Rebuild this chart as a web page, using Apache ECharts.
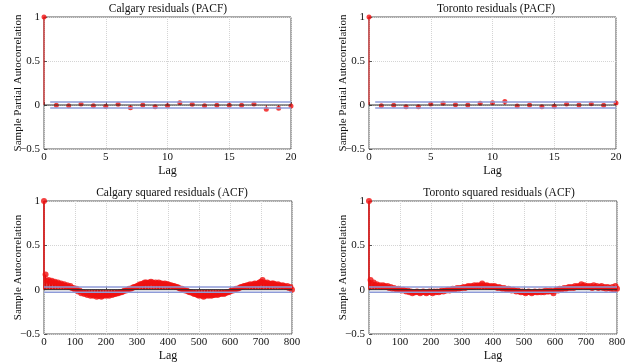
<!DOCTYPE html>
<html>
<head>
<meta charset="utf-8">
<script src="https://cdn.jsdelivr.net/npm/echarts@6/dist/echarts.min.js"></script>
<style>
  html, body { margin: 0; padding: 0; background: #fff; }
  #chart { width: 640px; height: 364px; }
</style>
</head>
<body>
<div id="chart"></div>
<script>
// PACF, lags 0..20
var pacfLags = [0, 1, 2, 3, 4, 5, 6, 7, 8, 9, 10, 11, 12, 13, 14, 15, 16, 17, 18, 19, 20];
var calgaryPacf = [1, -0.004, -0.008, 0.011, -0.008, -0.015, 0.008, -0.03, 0.0, -0.019, -0.008,
  0.026, 0.008, -0.008, -0.004, -0.004, -0.004, 0.011, -0.049, -0.038, -0.011];
var torontoPacf = [1, -0.008, -0.004, -0.019, -0.019, 0.011, 0.019, 0.004, 0.0, 0.019, 0.026,
  0.041, -0.011, 0.0, -0.019, -0.015, 0.011, 0.0, 0.015, -0.004, 0.023];

// ACF of squared residuals, read every 5 lags (0, 5, 10, ... 800)
var acfLags = [];
for (var k = 0; k <= 800; k += 5) acfLags.push(k);
var calgaryAcf = [1, 0.17, 0.10, 0.11, 0.09, 0.10, 0.08, 0.09, 0.07, 0.08, 0.06, 0.07, 0.05, 0.06, 0.04, 0.05,
  0.03, 0.04, 0.02, 0.02, 0.00, 0.01, -0.02, -0.01, -0.04, -0.03, -0.05, -0.04, -0.06, -0.05, -0.07, -0.06,
  -0.07, -0.06, -0.08, -0.07, -0.07, -0.08, -0.07, -0.06, -0.07, -0.06, -0.07, -0.05, -0.06, -0.05, -0.05,
  -0.04, -0.04, -0.03, -0.03, -0.02, -0.01, -0.01, 0.00, 0.01, 0.01, 0.02, 0.03, 0.03, 0.04, 0.05, 0.06,
  0.06, 0.07, 0.08, 0.08, 0.07, 0.08, 0.09, 0.08, 0.07, 0.08, 0.07, 0.08, 0.07, 0.07, 0.06, 0.07, 0.06,
  0.06, 0.05, 0.05, 0.04, 0.04, 0.03, 0.03, 0.02, 0.01, 0.01, 0.00, -0.01, -0.01, -0.02, -0.03, -0.03,
  -0.04, -0.05, -0.05, -0.06, -0.07, -0.06, -0.07, -0.08, -0.07, -0.06, -0.07, -0.06, -0.07, -0.06, -0.06,
  -0.05, -0.06, -0.05, -0.05, -0.04, -0.05, -0.04, -0.03, -0.03, -0.02, -0.01, -0.01, 0.00, 0.01, 0.01,
  0.02, 0.03, 0.03, 0.04, 0.04, 0.05, 0.05, 0.06, 0.05, 0.06, 0.07, 0.06, 0.07, 0.08, 0.09, 0.11, 0.08,
  0.07, 0.08, 0.07, 0.06, 0.07, 0.07, 0.06, 0.05, 0.06, 0.05, 0.04, 0.05, 0.04, 0.03, 0.04, 0.02, 0.03, 0.00];
var torontoAcf = [1, 0.11, 0.06, 0.08, 0.05, 0.06, 0.04, 0.05, 0.03, 0.05, 0.04, 0.03, 0.04, 0.02, 0.03, 0.01,
  0.02, 0.01, 0.00, 0.01, 0.00, -0.01, 0.00, -0.01, -0.02, -0.01, -0.03, -0.02, -0.04, -0.03, -0.03, -0.02,
  -0.03, -0.04, -0.03, -0.02, -0.03, -0.04, -0.03, -0.02, -0.03, -0.04, -0.02, -0.03, -0.02, -0.03, -0.02,
  -0.01, -0.02, -0.01, -0.01, 0.00, -0.01, 0.00, 0.01, 0.00, 0.01, 0.02, 0.01, 0.02, 0.02, 0.03, 0.02,
  0.03, 0.04, 0.03, 0.04, 0.03, 0.05, 0.04, 0.05, 0.04, 0.05, 0.07, 0.05, 0.04, 0.05, 0.04, 0.03, 0.04,
  0.03, 0.04, 0.03, 0.02, 0.03, 0.02, 0.01, 0.02, 0.01, 0.00, 0.01, 0.00, -0.01, 0.00, -0.01, -0.02,
  -0.01, -0.02, -0.03, -0.02, -0.03, -0.04, -0.03, -0.02, -0.03, -0.04, -0.03, -0.02, -0.03, -0.03, -0.02,
  -0.03, -0.02, -0.03, -0.01, -0.02, -0.02, -0.01, -0.02, -0.04, -0.01, 0.00, -0.01, 0.01, 0.00, 0.01,
  0.02, 0.01, 0.02, 0.03, 0.02, 0.03, 0.02, 0.04, 0.03, 0.04, 0.03, 0.06, 0.04, 0.05, 0.03, 0.04, 0.03,
  0.04, 0.02, 0.05, 0.03, 0.04, 0.02, 0.03, 0.04, 0.02, 0.03, 0.01, 0.03, 0.02, 0.01, 0.03, 0.00, 0.04, 0.01];

var pacfBound = 0.034;
var acfBound = 0.03;

var titles = ['Calgary residuals (PACF)', 'Toronto residuals (PACF)',
  'Calgary squared residuals (ACF)', 'Toronto squared residuals (ACF)'];
var yNames = ['Sample Partial Autocorrelation', 'Sample Partial Autocorrelation',
  'Sample Autocorrelation', 'Sample Autocorrelation'];

var serif = 'Liberation Serif';
var red = '#f01010';

var grids = [
  { left: 44, top: 17, width: 247, height: 132 },
  { left: 369, top: 17, width: 247, height: 132 },
  { left: 44, top: 201, width: 248, height: 133 },
  { left: 369, top: 201, width: 248, height: 133 }
];
var titleX = [168, 496, 172, 499];
var titleY = [9, 9, 193, 193];

function pairs(xs, ys) {
  return xs.map(function (x, i) { return [x, ys[i]]; });
}

var panels = [
  { lags: pacfLags, vals: calgaryPacf, max: 20, step: 5, bound: pacfBound, b0: 0.5, size: 5, stem: 1 },
  { lags: pacfLags, vals: torontoPacf, max: 20, step: 5, bound: pacfBound, b0: 0.5, size: 5, stem: 1 },
  { lags: acfLags, vals: calgaryAcf, max: 800, step: 100, bound: acfBound, b0: 0, size: 6, stem: 1.6 },
  { lags: acfLags, vals: torontoAcf, max: 800, step: 100, bound: acfBound, b0: 0, size: 6, stem: 1.6 }
];

function stemRenderer(width) {
  return function (params, api) {
    var top = api.coord([api.value(0), api.value(1)]);
    var base = api.coord([api.value(0), 0]);
    return {
      type: 'line',
      shape: { x1: top[0], y1: base[1], x2: top[0], y2: top[1] },
      style: { stroke: '#dc1010', lineWidth: width }
    };
  };
}

var xAxes = [], yAxes = [], series = [], graphics = [];
panels.forEach(function (p, i) {
  xAxes.push({
    type: 'value', gridIndex: i, min: 0, max: p.max, interval: p.step,
    name: 'Lag', nameLocation: 'middle', nameGap: 16,
    nameTextStyle: { fontFamily: serif, fontSize: 12, color: '#111' },
    axisLine: { show: false },
    axisTick: { show: true, inside: true, length: 3, lineStyle: { color: '#555' } },
    axisLabel: { fontFamily: serif, fontSize: 11, color: '#111', margin: 3 },
    splitLine: { show: true, lineStyle: { color: '#d4d4d4', type: 'dotted' } }
  });
  yAxes.push({
    type: 'value', gridIndex: i, min: -0.5, max: 1, interval: 0.5,
    name: yNames[i], nameLocation: 'middle', nameGap: 20, nameMoveOverlap: false,
    nameTextStyle: { fontFamily: serif, fontSize: 11, color: '#111' },
    axisLine: { show: false },
    axisTick: { show: true, inside: true, length: 3, lineStyle: { color: '#555' } },
    axisLabel: {
      fontFamily: serif, fontSize: 11, color: '#111', margin: 4,
      formatter: function (v) { return v < 0 ? '\u2212' + Math.abs(v) : String(v); }
    },
    splitLine: { show: true, lineStyle: { color: '#d4d4d4', type: 'dotted' } }
  });
  var data = pairs(p.lags, p.vals);
  series.push({
    type: 'custom', xAxisIndex: i, yAxisIndex: i, data: data,
    renderItem: stemRenderer(p.stem), silent: true, z: 2
  });
  series.push({
    type: 'scatter', xAxisIndex: i, yAxisIndex: i, data: data,
    symbol: 'circle', symbolSize: p.size, itemStyle: { color: red }, z: 3
  });
  series.push({
    type: 'line', xAxisIndex: i, yAxisIndex: i, data: [[0, 0], [p.max, 0]],
    symbol: 'none', lineStyle: { color: '#2a2a2a', width: 1 }, z: 4
  });
  series.push({
    type: 'line', xAxisIndex: i, yAxisIndex: i, data: [[p.b0, p.bound], [p.max, p.bound]],
    symbol: 'none', lineStyle: { color: '#8e9bd8', width: 1.5 }, z: 4
  });
  series.push({
    type: 'line', xAxisIndex: i, yAxisIndex: i, data: [[p.b0, -p.bound], [p.max, -p.bound]],
    symbol: 'none', lineStyle: { color: '#8e9bd8', width: 1.5 }, z: 4
  });
  graphics.push({
    type: 'text', x: titleX[i], y: titleY[i],
    style: { text: titles[i], font: '11.5px "Liberation Serif"', fill: '#111',
      textAlign: 'center', textVerticalAlign: 'middle' }
  });
});

var myChart = echarts.init(document.getElementById('chart'));
var grid = grids.map(function (g) {
  return { left: g.left, top: g.top, width: g.width, height: g.height,
    show: true, borderColor: '#555', borderWidth: 1, backgroundColor: 'transparent' };
});
myChart.setOption({
  animation: false,
  backgroundColor: '#fff',
  grid: grid,
  xAxis: xAxes,
  yAxis: yAxes,
  series: series,
  graphic: graphics
});
</script>
</body>
</html>
